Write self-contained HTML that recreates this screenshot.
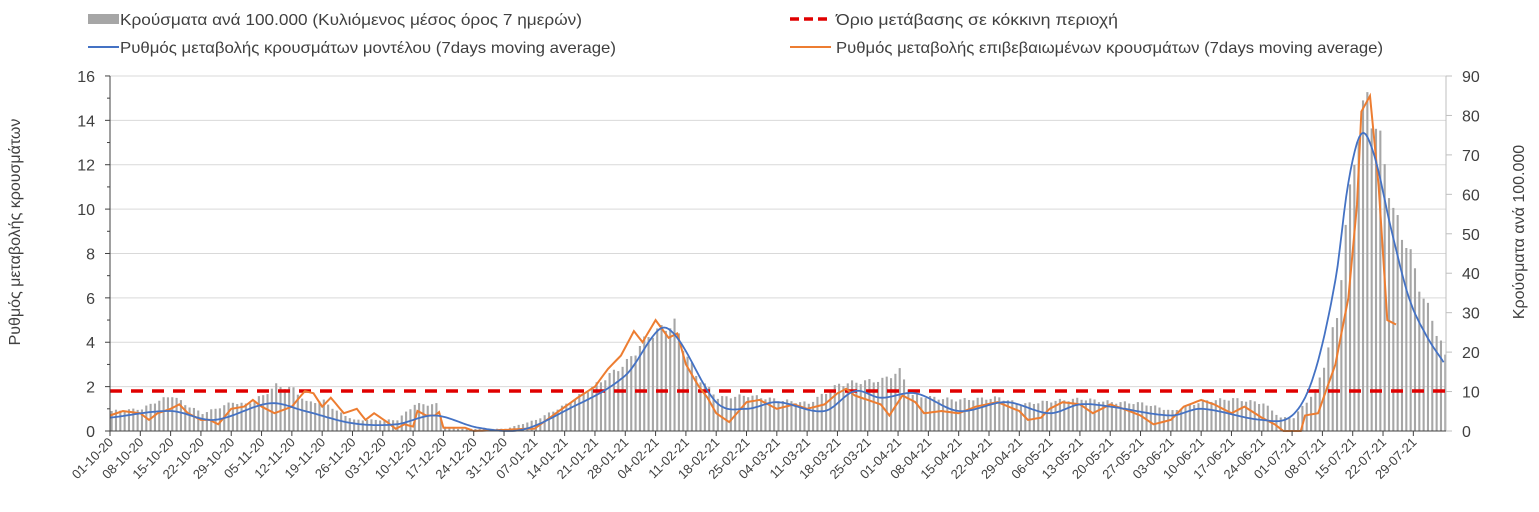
<!DOCTYPE html>
<html><head><meta charset="utf-8"><style>
html,body{margin:0;padding:0;background:#fff;}
svg{display:block;font-family:"Liberation Sans",sans-serif;}
</style></head><body>
<svg id="c" width="1539" height="512" viewBox="0 0 1539 512" xmlns="http://www.w3.org/2000/svg">
<rect width="1539" height="512" fill="#fff"/>
<g id="grid"></g><g id="bars"></g><g id="lines"></g><g id="axes"></g>
<rect x="88" y="14" width="31" height="10" fill="#a6a6a6"/>
<text x="120" y="25" font-size="16" fill="#404040" textLength="462" lengthAdjust="spacingAndGlyphs">Κρούσματα ανά 100.000 (Κυλιόμενος μέσος όρος 7 ημερών)</text>
<line x1="790" y1="19" x2="831" y2="19" stroke="#e00000" stroke-width="3.5" stroke-dasharray="9,5"/>
<text x="836" y="25" font-size="16" fill="#404040" textLength="282" lengthAdjust="spacingAndGlyphs">Όριο μετάβασης σε κόκκινη περιοχή</text>
<line x1="88" y1="47" x2="119" y2="47" stroke="#4472c4" stroke-width="2"/>
<text x="120" y="53" font-size="16" fill="#404040" textLength="496" lengthAdjust="spacingAndGlyphs">Ρυθμός μεταβολής κρουσμάτων μοντέλου (7days moving average)</text>
<line x1="790" y1="47" x2="831" y2="47" stroke="#ed7d31" stroke-width="2"/>
<text x="836" y="53" font-size="16" fill="#404040" textLength="547" lengthAdjust="spacingAndGlyphs">Ρυθμός μεταβολής επιβεβαιωμένων κρουσμάτων (7days moving average)</text>
<text transform="translate(20,232) rotate(-90)" text-anchor="middle" font-size="16" fill="#404040">Ρυθμός μεταβολής κρουσμάτων</text>
<text transform="translate(1524,232) rotate(-90)" text-anchor="middle" font-size="16" fill="#404040">Κρούσματα ανά 100.000</text>
</svg>
<script>
var NS="http://www.w3.org/2000/svg";
function el(p,t,a,txt){var e=document.createElementNS(NS,t);for(var k in a)e.setAttribute(k,a[k]);if(txt!=null)e.textContent=txt;document.getElementById(p).appendChild(e);return e;}
var X0=110,PX=4.33,Y0=431,PY=22.19;
function X(d){return X0+PX*d;}function Y(v){return Y0-PY*v;}
function interp(pts,d){for(var i=0;i<pts.length-1;i++){if(d>=pts[i][0]&&d<=pts[i+1][0]){var t=(d-pts[i][0])/(pts[i+1][0]-pts[i][0]);return pts[i][1]+(pts[i+1][1]-pts[i][1])*t;}}return pts[pts.length-1][1];}
function smooth(pts,d){for(var i=0;i<pts.length-1;i++){if(d>=pts[i][0]&&d<=pts[i+1][0]){var p0=pts[Math.max(0,i-1)],p1=pts[i],p2=pts[i+1],p3=pts[Math.min(pts.length-1,i+2)];var h=p2[0]-p1[0];var m1=(p2[1]-p0[1])/(p2[0]-p0[0])*h,m2=(p3[1]-p1[1])/(p3[0]-p1[0])*h;var t=(d-p1[0])/h,t2=t*t,t3=t2*t;return (2*t3-3*t2+1)*p1[1]+(t3-2*t2+t)*m1+(-2*t3+3*t2)*p2[1]+(t3-t2)*m2;}}return pts[pts.length-1][1];}
for(var v=2;v<=16;v+=2)el("grid","line",{x1:X0,x2:1446,y1:Y(v),y2:Y(v),stroke:"#d9d9d9","stroke-width":1});
var bars=[[0,0.9],[7,1.0],[10,1.3],[14,1.6],[17,1.2],[21,0.8],[24,1.0],[28,1.3],[31,1.2],[35,1.6],[38,2.05],[42,1.9],[45,1.3],[49,1.35],[52,0.9],[56,0.5],[60,0.5],[66,0.5],[70,1.2],[75,1.2],[77,0.2],[80,0.1],[91,0.1],[98,0.5],[105,1.2],[112,2.1],[119,3.1],[124,4.3],[127,4.6],[130,4.85],[132,3.8],[135,2.5],[140,1.5],[147,1.6],[154,1.4],[161,1.25],[168,2.1],[172,2.2],[178,2.3],[182,2.7],[185,1.6],[195,1.4],[205,1.5],[210,1.2],[217,1.35],[224,1.45],[231,1.3],[238,1.25],[245,0.9],[252,1.35],[259,1.45],[266,1.25],[270,0.6],[273,0.6],[275,1.1],[278,1.8],[280,3.0],[283,5.2],[285,9.0],[287,12.5],[290,15.1],[292,13.6],[294,12.2],[296,9.8],[299,8.5],[301,7.2],[303,6.0],[305,5.0],[307,4.0],[308,3.3]];
for(var d=0;d<=308;d++){var v=interp(bars,d)*(1+0.05*Math.sin(d*1.7));el("bars","rect",{x:X(d)+0.6,y:Y(v),width:2.1,height:PY*v,fill:"#a6a6a6"});}
function path(pts,f,step,end){var s="";for(var d=0;d<=end+1e-9;d+=step){s+=(d?"L":"M")+X(d).toFixed(1)+","+Y(Math.max(0,f(pts,d))).toFixed(1);}return s;}
var blue=[[0,0.6],[14,0.9],[24,0.5],[37,1.25],[45,0.9],[56,0.35],[66,0.3],[75,0.7],[85,0.15],[95,0.05],[105,0.9],[119,2.5],[127,4.6],[131,4.2],[140,1.3],[147,1.0],[154,1.3],[165,0.9],[172,1.8],[178,1.5],[186,1.7],[196,0.9],[207,1.3],[217,0.8],[224,1.2],[231,1.1],[245,0.7],[252,1.0],[266,0.5],[273,0.7],[278,2.5],[283,6.8],[286,11.2],[289,13.4],[292,12.4],[296,9],[300,6],[304,4.3],[308,3.1]];
var orange=[[0,0.7],[3,0.9],[7,0.8],[9,0.5],[11,0.8],[14,1.0],[16,1.2],[18,0.8],[21,0.5],[23,0.5],[25,0.3],[28,1.0],[31,1.1],[33,1.4],[35,1.1],[38,0.8],[42,1.1],[45,1.8],[47,1.7],[49,1.1],[51,1.5],[54,0.8],[57,1.0],[59,0.5],[61,0.8],[64,0.4],[66,0.1],[68,0.3],[70,0.2],[71,0.9],[73,0.7],[75,0.7],[76,0.85],[77,0.15],[82,0.15],[84,0.0],[91,0.05],[96,0.1],[98,0.1],[103,0.8],[108,1.5],[112,2.0],[115,2.8],[118,3.4],[121,4.5],[123,4.0],[126,5.0],[129,4.2],[131,4.4],[133,3.0],[136,2.0],[138,1.5],[140,0.8],[143,0.4],[147,1.3],[150,1.4],[154,1.0],[158,1.2],[161,1.0],[165,1.2],[168,1.7],[170,1.9],[172,1.6],[175,1.4],[178,1.2],[180,0.7],[183,1.6],[186,1.3],[188,0.8],[192,0.9],[196,0.8],[200,1.1],[205,1.3],[210,0.9],[212,0.5],[215,0.6],[217,1.0],[220,1.3],[224,1.2],[227,0.8],[231,1.2],[234,1.0],[238,0.7],[241,0.3],[245,0.5],[248,1.1],[252,1.4],[255,1.2],[259,0.8],[262,1.1],[266,0.6],[269,0.3],[271,0],[275,0],[276,0.7],[279,0.8],[283,3.0],[286,6.0],[288,10.2],[289,14.4],[291,15.1],[293,11.0],[295,5.0],[297,4.8]];
el("lines","line",{x1:X0,x2:1446,y1:Y(1.8),y2:Y(1.8),stroke:"#e00000","stroke-width":3.5,"stroke-dasharray":"12,9"});
el("lines","path",{d:path(orange,interp,1,297),fill:"none",stroke:"#ed7d31","stroke-width":2});
el("lines","path",{d:path(blue,smooth,0.5,308),fill:"none",stroke:"#4472c4","stroke-width":1.8});
el("axes","line",{x1:X0,x2:X0,y1:76,y2:Y0,stroke:"#404040"});
el("axes","line",{x1:1446,x2:1446,y1:76,y2:Y0,stroke:"#bfbfbf"});
el("axes","line",{x1:X0,x2:1446,y1:Y0,y2:Y0,stroke:"#404040"});
for(var v=0;v<=16;v+=2){el("axes","text",{x:95,y:Y(v)+6,"text-anchor":"end","font-size":16,fill:"#404040"},v);el("axes","line",{x1:X0-5,x2:X0,y1:Y(v),y2:Y(v),stroke:"#404040"});if(v<16)el("axes","line",{x1:X0-3,x2:X0,y1:Y(v+1),y2:Y(v+1),stroke:"#404040"});}
for(var r=0;r<=90;r+=10){var y=Y0-r*355/90;el("axes","text",{x:1462,y:y+6,"font-size":16,fill:"#404040"},r);el("axes","line",{x1:1446,x2:1452,y1:y,y2:y,stroke:"#bfbfbf"});}
var start=new Date(2020,9,1);
for(var d=0;d<=301;d+=7){var dt=new Date(start.getTime()+d*86400000+3600000*12);var s=("0"+dt.getDate()).slice(-2)+"-"+("0"+(dt.getMonth()+1)).slice(-2)+"-"+String(dt.getFullYear()).slice(2);
var x=X(d);el("axes","line",{x1:x,x2:x,y1:Y0,y2:Y0+5,stroke:"#404040"});
el("axes","text",{transform:"translate("+(x+4)+","+(Y0+12)+") rotate(-45)","text-anchor":"end","font-size":13,fill:"#404040"},s);}
</script>
</body></html>
